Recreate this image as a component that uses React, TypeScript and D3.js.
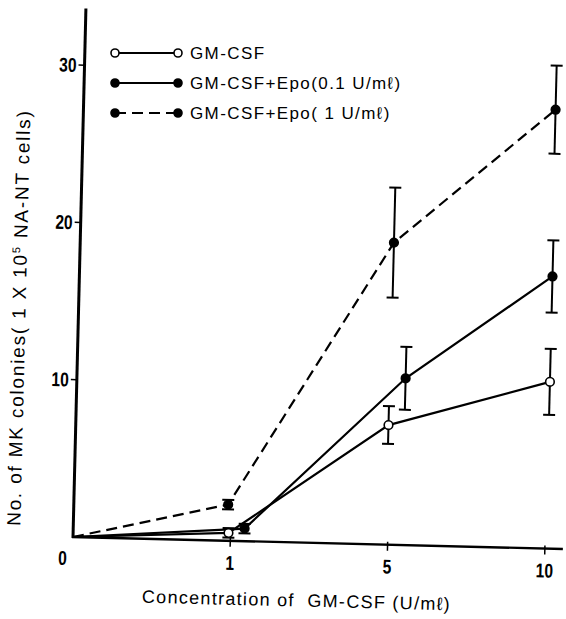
import React from "react";
import * as d3 from "d3";

// concentration of GM-CSF (U/ml), equally spaced on the x axis
const concentrations = ["0", "1", "5", "10"];

// MK colonies per 1x10^5 NA-NT cells, mean and +/- error
const gmMean = [0, 0.5, 7.6, 10.6];
const gmErr = [0, 0.3, 1.2, 2.1];
const epoLowMean = [0, 0.8, 10.6, 17.3];
const epoLowErr = [0, 0.3, 2.0, 2.3];
const epoHighMean = [0, 2.3, 19.2, 27.9];
const epoHighErr = [0, 0.3, 3.5, 2.8];

const yTicks = [10, 20, 30];
const xTicks = ["1", "5", "10"];

const legendLabels = ["GM-CSF", "GM-CSF+Epo(0.1 U/mℓ)", "GM-CSF+Epo( 1 U/mℓ)"];

export default function App() {
  const width = 566;
  const height = 619;
  const ox = 73; // origin of the plot
  const oy = 537;
  const tilt = 1.4; // the scan is a little rotated

  const x = d3.scalePoint().domain(concentrations).range([ox, ox + 472]);
  const y = d3.scaleLinear().domain([0, 30]).range([oy, oy - 472]);

  // hand drawn points sit a bit off the ticks in the original
  const series = [
    { mean: gmMean, err: gmErr, open: true, dash: null, nudge: [0, -2, -2, 1] },
    { mean: epoLowMean, err: epoLowErr, open: false, dash: null, nudge: [0, 14, 14, 1] },
    { mean: epoHighMean, err: epoHighErr, open: false, dash: "11,6", nudge: [0, -3, -1, 0] },
  ];

  const tickFont = "'Liberation Sans', Arial, sans-serif";
  const textFont = "'Liberation Sans', Arial, sans-serif";

  const tickLabel = (tx: number, ty: number, t: string, anchor: string) => (
    <text
      transform={`translate(${tx}, ${ty}) scale(0.78, 1)`}
      textAnchor={anchor}
      fontFamily={tickFont}
      fontWeight="bold"
      fontSize={20}
    >
      {t}
    </text>
  );

  return (
    <svg
      width={width}
      height={height}
      style={{ position: "absolute", left: 0, top: 0, background: "white" }}
    >
      <g transform={`rotate(${tilt}, ${ox}, ${oy})`}>
        {/* axes */}
        <line x1={ox} y1={oy + 1} x2={ox} y2={y(33.6)} stroke="black" strokeWidth={3} />
        <line x1={ox - 1} y1={oy} x2={ox + 490} y2={oy} stroke="black" strokeWidth={2.4} />

        {yTicks.map((t) => (
          <g key={t}>
            <line x1={ox - 6} x2={ox} y1={y(t)} y2={y(t)} stroke="black" strokeWidth={1.5} />
            {tickLabel(ox - 8, y(t) + 7, String(t), "end")}
          </g>
        ))}
        {tickLabel(ox - 10, oy + 28, "0", "middle")}

        {xTicks.map((t) => (
          <g key={t}>
            <line
              x1={x(t) as number}
              x2={x(t) as number}
              y1={oy - 3}
              y2={oy + 6}
              stroke="black"
              strokeWidth={1.5}
            />
            {tickLabel(x(t) as number, oy + 29, t, "middle")}
          </g>
        ))}

        {/* lines */}
        {series.map((s, k) => (
          <path
            key={k}
            d={
              d3
                .line<number>()
                .x((_, i) => (x(concentrations[i]) as number) + s.nudge[i])
                .y((d) => y(d))(s.mean) || ""
            }
            fill="none"
            stroke="black"
            strokeWidth={2.2}
            strokeDasharray={s.dash || undefined}
          />
        ))}

        {/* error bars and markers */}
        {series.map((s, k) =>
          s.mean.map((m, i) => {
            if (i === 0) return null;
            const cx = (x(concentrations[i]) as number) + s.nudge[i];
            const top = y(m + s.err[i]);
            const bot = y(m - s.err[i]);
            return (
              <g key={`${k}-${i}`}>
                <line x1={cx} x2={cx} y1={top} y2={bot} stroke="black" strokeWidth={2} />
                <line x1={cx - 6} x2={cx + 6} y1={top} y2={top} stroke="black" strokeWidth={2} />
                <line x1={cx - 6} x2={cx + 6} y1={bot} y2={bot} stroke="black" strokeWidth={2} />
                <circle
                  cx={cx}
                  cy={y(m)}
                  r={4.3}
                  fill={s.open ? "white" : "black"}
                  stroke="black"
                  strokeWidth={1.6}
                />
              </g>
            );
          })
        )}

        {/* axis titles */}
        <text
          x={ox + 225}
          y={oy + 64}
          textAnchor="middle"
          fontFamily={textFont}
          fontSize={18}
          letterSpacing={1.3}
          style={{ whiteSpace: "pre" }}
        >
          Concentration of  GM-CSF (U/mℓ)
        </text>
        <text
          transform={`translate(${ox - 53}, ${oy - 218}) rotate(-90)`}
          textAnchor="middle"
          fontFamily={textFont}
          fontSize={19}
          letterSpacing={1.8}
        >
          No. of MK colonies( 1 X 10
          <tspan dy={-7} fontSize={11}>
            5
          </tspan>
          <tspan dy={7}> NA-NT cells)</tspan>
        </text>
      </g>

      {/* legend */}
      {series.map((s, k) => {
        const ly = 53 + k * 30;
        return (
          <g key={`leg-${k}`}>
            <line
              x1={115}
              x2={178}
              y1={ly}
              y2={ly}
              stroke="black"
              strokeWidth={2}
              strokeDasharray={s.dash || undefined}
            />
            {[115, 178].map((cx) => (
              <circle
                key={cx}
                cx={cx}
                cy={ly}
                r={4}
                fill={s.open ? "white" : "black"}
                stroke="black"
                strokeWidth={1.6}
              />
            ))}
            <text
              x={190}
              y={ly}
              dy="0.36em"
              fontFamily={textFont}
              fontSize={17}
              letterSpacing={1.4}
            >
              {legendLabels[k]}
            </text>
          </g>
        );
      })}
    </svg>
  );
}
